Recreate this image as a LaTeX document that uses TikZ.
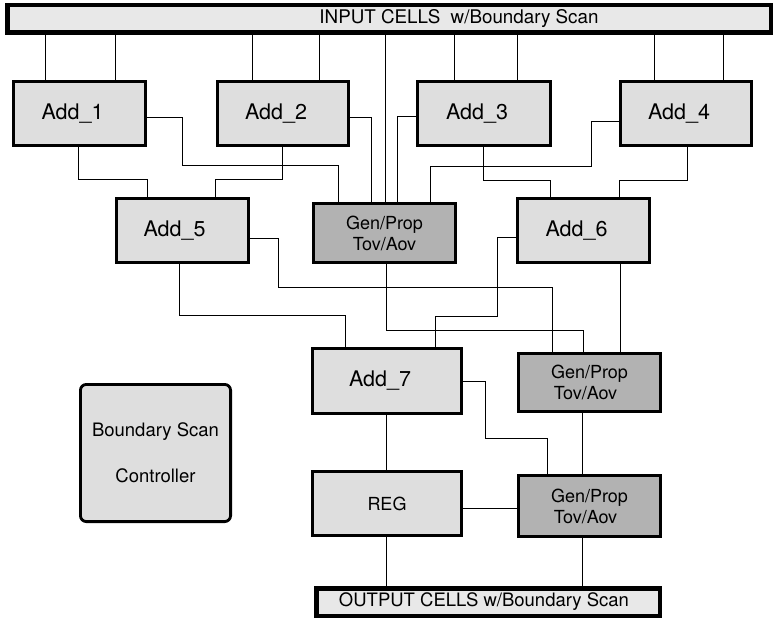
\documentclass[tikz,border=0pt]{standalone}
\usepackage{fontspec}
\setmainfont{TeX Gyre Heros}
\definecolor{addfill}{RGB}{222,222,222}
\definecolor{gpfill}{RGB}{178,178,178}
\definecolor{barfill}{RGB}{232,232,232}
\begin{document}
\begin{tikzpicture}[x=1pt,y=-1pt,
  box/.style={draw=black, line width=2.8pt, inner sep=0pt, anchor=center},
  addbox/.style={box, fill=addfill, font=\fontsize{21.5}{24}\selectfont},
  gpbox/.style={box, fill=gpfill, font=\fontsize{18}{21}\selectfont, align=center},
  bsbox/.style={box, fill=addfill, rounded corners=6pt, font=\fontsize{18.5}{46}\selectfont, align=center},
  bar/.style={draw=black, line width=4.5pt, fill=barfill, inner sep=0pt, anchor=center, font=\fontsize{18.8}{22}\selectfont},
  wire/.style={draw=black, line width=0.9pt}]
\useasboundingbox[fill=white] (0,0) rectangle (776,623);

% bars
\node[bar, minimum width=763.5pt, minimum height=27.5pt] (in) at (389,19)
  {\hspace*{140pt}INPUT CELLS\ \ w/Boundary Scan};
\node[bar, minimum width=343.5pt, minimum height=27.5pt, font=\fontsize{18.5}{22}\selectfont] (out) at (488,602)
  {OUTPUT CELLS w/Boundary Scan\hspace*{8pt}};

% top row adders
\node[addbox, minimum width=132.2pt, minimum height=64.2pt] (a1) at (79.5,113.5) {Add\_1\hspace*{14pt}};
\node[addbox, minimum width=131.2pt, minimum height=64.2pt] (a2) at (283,113.5) {Add\_2\hspace*{14pt}};
\node[addbox, minimum width=133.2pt, minimum height=64.2pt] (a3) at (484,113.5) {Add\_3\hspace*{14pt}};
\node[addbox, minimum width=131.2pt, minimum height=64.2pt] (a4) at (686,113.5) {Add\_4\hspace*{14pt}};

% second row
\node[addbox, minimum width=132.2pt, minimum height=64.2pt] (a5) at (182.5,230.5) {Add\_5\hspace*{16pt}};
\node[gpbox, minimum width=142.2pt, minimum height=59.2pt] (gp1) at (384.5,233) {Gen/Prop\\Tov/Aov};
\node[addbox, minimum width=132.2pt, minimum height=64.2pt] (a6) at (583.5,230.5) {Add\_6\hspace*{14pt}};

% third row
\node[addbox, minimum width=149.2pt, minimum height=65.2pt] (a7) at (387,381) {Add\_7\hspace*{14pt}};
\node[gpbox, minimum width=142.2pt, minimum height=58.2pt] (gp2) at (589.5,382.5) {Gen/Prop\\Tov/Aov\hspace*{8pt}};

% fourth row
\node[addbox, minimum width=149.2pt, minimum height=64.2pt, font=\fontsize{18}{22}\selectfont] (reg) at (387,503.5) {REG};
\node[gpbox, minimum width=142.2pt, minimum height=61.2pt] (gp3) at (589.5,506) {Gen/Prop\\Tov/Aov\hspace*{8pt}};

% boundary scan controller
\node[bsbox, minimum width=150.2pt, minimum height=137.2pt] (bsc) at (155.5,453) {Boundary Scan\\Controller};

% input bar to top adders
\draw[wire] (in.south -| 45,0) -- (a1.north -| 45,0);
\draw[wire] (in.south -| 115,0) -- (a1.north -| 115,0);
\draw[wire] (in.south -| 252,0) -- (a2.north -| 252,0);
\draw[wire] (in.south -| 319,0) -- (a2.north -| 319,0);
\draw[wire] (in.south -| 454,0) -- (a3.north -| 454,0);
\draw[wire] (in.south -| 517,0) -- (a3.north -| 517,0);
\draw[wire] (in.south -| 654,0) -- (a4.north -| 654,0);
\draw[wire] (in.south -| 723,0) -- (a4.north -| 723,0);
\draw[wire] (in.south -| 385,0) -- (gp1.north -| 385,0);

% top adders to Add_5 / Add_6
\draw[wire] (a1.south -| 78,0) -- (78,179) -| (a5.north -| 147,0);
\draw[wire] (a2.south -| 282,0) -- (282,179) -| (a5.north -| 215,0);
\draw[wire] (a3.south -| 483,0) -- (483,180) -| (a6.north -| 550,0);
\draw[wire] (a4.south -| 687,0) -- (687,180) -| (a6.north -| 619,0);

% top adders to Gen/Prop 1
\draw[wire] (a1.east |- 0,117) -| (182,165) -| (gp1.north -| 338,0);
\draw[wire] (a2.east |- 0,117) -| (gp1.north -| 371,0);
\draw[wire] (a3.west |- 0,116) -| (gp1.north -| 397,0);
\draw[wire] (a4.west |- 0,121) -| (591,166) -| (gp1.north -| 430,0);

% second row to third row
\draw[wire] (a5.east |- 0,238) -| (278,287) -| (gp2.north -| 552,0);
\draw[wire] (a5.south -| 179,0) -- (179,315) -| (a7.north -| 345,0);
\draw[wire] (a6.west |- 0,237) -| (497,316) -| (a7.north -| 435,0);
\draw[wire] (a6.south -| 620,0) -- (gp2.north -| 620,0);
\draw[wire] (gp1.south -| 386,0) -- (386,330) -| (gp2.north -| 583,0);

% third row to fourth row
\draw[wire] (a7.east |- 0,381) -| (485,438) -| (gp3.north -| 547,0);
\draw[wire] (a7.south -| 386,0) -- (reg.north -| 386,0);
\draw[wire] (reg.east |- 0,508) -- (gp3.west |- 0,508);
\draw[wire] (gp2.south -| 582,0) -- (gp3.north -| 582,0);

% to output
\draw[wire] (gp3.south -| 582,0) -- (out.north -| 582,0);
\draw[wire] (reg.south -| 386,0) -- (out.north -| 386,0);
\end{tikzpicture}
\end{document}
